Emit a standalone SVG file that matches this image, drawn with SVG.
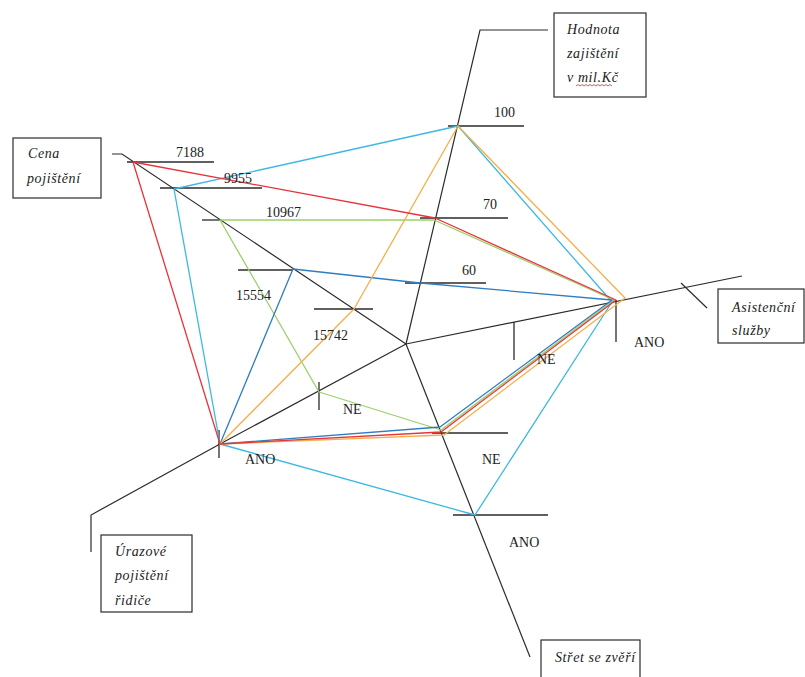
<svg xmlns="http://www.w3.org/2000/svg" width="805" height="677" viewBox="0 0 805 677">
<style>
.ax{stroke:#2b2b2b;stroke-width:1.2;fill:none}
.tk{stroke:#2b2b2b;stroke-width:1.3;fill:none}
.box{stroke:#2b2b2b;stroke-width:1.2;fill:#fff}
.s{fill:none;stroke-width:1.3;stroke-linejoin:round}
.red{stroke:#e8333a}
.cyan{stroke:#3cb8e2}
.green{stroke:#9ccf6a}
.blue{stroke:#2f7ec1}
.orange{stroke:#f7ae48}
.num{font-family:"Liberation Serif","Times New Roman",serif;font-size:14px;fill:#222}
.lbl{font-family:"Liberation Serif","Times New Roman",serif;font-size:14px;font-style:italic;letter-spacing:0.6px;fill:#222}
</style>
<rect width="805" height="677" fill="#fff"/>
<g id="connectors">
  <!-- axes -->
  <polyline class="ax" points="406,344 480,30 548,30"/>
  <polyline class="ax" points="406,344 122,154 112,154"/>
  <polyline class="ax" points="406,344 742,276"/>
  <line class="ax" x1="681" y1="283" x2="707" y2="308"/>
  <polyline class="ax" points="406,344 530,657"/>
  <polyline class="ax" points="406,344 220,444 91,515 91,552"/>
  <!-- ticks -->
  <line class="tk" x1="127" y1="162" x2="214" y2="162"/>
  <line class="tk" x1="160" y1="188" x2="262" y2="188"/>
  <line class="tk" x1="202" y1="220" x2="222" y2="220"/>
  <line class="tk" x1="238" y1="270" x2="293" y2="270"/>
  <line class="tk" x1="314" y1="309" x2="373" y2="309"/>
  <line class="tk" x1="448" y1="126" x2="524" y2="126"/>
  <line class="tk" x1="420" y1="218" x2="508" y2="218"/>
  <line class="tk" x1="405" y1="283" x2="486" y2="283"/>
  <line class="tk" x1="616" y1="300" x2="616" y2="342"/>
  <line class="tk" x1="514" y1="322" x2="514" y2="360"/>
  <line class="tk" x1="432" y1="433" x2="508" y2="433"/>
  <line class="tk" x1="453" y1="515" x2="548" y2="515"/>
  <line class="tk" x1="219" y1="430" x2="219" y2="458"/>
  <line class="tk" x1="319" y1="382" x2="319" y2="410"/>
  <!-- data series -->
  <polygon class="s cyan" points="174,189 458,126 612,302 475,515 220,444"/>
  <polygon class="s green" points="220,220 434,220 614,300 441,430 319,392"/>
  <polygon class="s blue" points="293,269 420,283 612,300 440,427 220,444"/>
  <polygon class="s orange" points="354,309 458,126 625,298 444,435 220,444"/>
  <polygon class="s red" points="133,162 435,218 616,300 441,432 220,444"/>
</g>
<g id="values">
  <text class="num" x="176" y="157">7188</text>
  <text class="num" x="224" y="183">9955</text>
  <text class="num" x="266" y="217">10967</text>
  <text class="num" x="236" y="300">15554</text>
  <text class="num" x="313" y="340">15742</text>
  <text class="num" x="494" y="117">100</text>
  <text class="num" x="483" y="209">70</text>
  <text class="num" x="462" y="275">60</text>
  <text class="num" x="634" y="347">ANO</text>
  <text class="num" x="537" y="364">NE</text>
  <text class="num" x="482" y="464">NE</text>
  <text class="num" x="509" y="547">ANO</text>
  <text class="num" x="245" y="464">ANO</text>
  <text class="num" x="343" y="414">NE</text>
</g>
<g id="node-hodnota">
  <rect class="box" x="554" y="13" width="92" height="84"/>
  <text class="lbl" x="567" y="34">Hodnota</text>
  <text class="lbl" x="567" y="58">zajištění</text>
  <text class="lbl" x="567" y="82">v mil.Kč</text>
  <path d="M576,86 l2,-1.5 l2,1.5 l2,-1.5 l2,1.5 l2,-1.5 l2,1.5 l2,-1.5 l2,1.5 l2,-1.5 l2,1.5 l2,-1.5 l2,1.5 l2,-1.5 l2,1.5 l2,-1.5 l2,1.5 l2,-1.5 l2,1.5" fill="none" stroke="#e03030" stroke-width="0.8"/>
</g>
<g id="node-cena">
  <rect class="box" x="13" y="138" width="88" height="60"/>
  <text class="lbl" x="28" y="158">Cena</text>
  <text class="lbl" x="27" y="183">pojištění</text>
</g>
<g id="node-asistencni">
  <rect class="box" x="718" y="289" width="86" height="54"/>
  <text class="lbl" x="732" y="312">Asistenční</text>
  <text class="lbl" x="732" y="335">služby</text>
</g>
<g id="node-stret">
  <rect class="box" x="541" y="640" width="99" height="45"/>
  <text class="lbl" x="555" y="662">Střet se zvěří</text>
</g>
<g id="node-urazove">
  <rect class="box" x="101" y="535" width="91" height="77"/>
  <text class="lbl" x="115" y="556">Úrazové</text>
  <text class="lbl" x="115" y="580">pojištění</text>
  <text class="lbl" x="115" y="605">řidiče</text>
</g>
</svg>
